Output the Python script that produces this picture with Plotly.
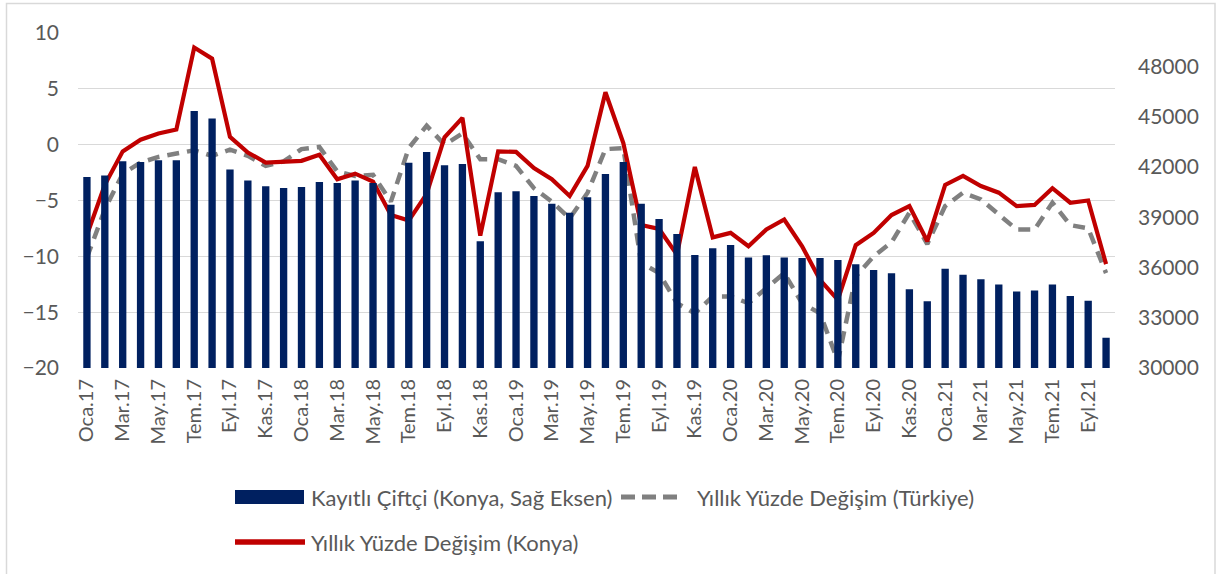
import plotly.graph_objects as go

aylar = ['Oca', 'Şub', 'Mar', 'Nis', 'May', 'Haz', 'Tem', 'Ağu', 'Eyl', 'Eki', 'Kas', 'Ara']
donemler = [f'{a}.{y}' for y in ['17', '18', '19', '20', '21'] for a in aylar][:58]

# Kayıtlı çiftçi sayısı (Konya, sağ eksen)
kayitli_ciftci = [41400, 41500, 42350, 42300, 42400, 42400, 45350, 44900, 41850, 41200,
                  40850, 40750, 40800, 41100, 41050, 41200, 41050, 39750, 42250, 42900,
                  42100, 42180, 37560, 40500, 40550, 40270, 39800, 39270, 40200, 41580,
                  42300, 39800, 38900, 38000, 36750, 37150, 37350, 36600, 36730, 36600,
                  36570, 36570, 36450, 36200, 35850, 35650, 34700, 33980, 35930, 35570,
                  35300, 34980, 34560, 34620, 34980, 34300, 34020, 31800]

# Yıllık yüzde değişim (Türkiye)
yuzde_turkiye = [-10.1, -5.8, -2.6, -1.6, -1.1, -0.8, -0.5, -1.0, -0.45, -1.0,
                 -1.9, -1.5, -0.4, -0.2, -2.4, -2.8, -2.7, -5.1, -0.3, 1.7,
                 0.0, 1.0, -1.3, -1.3, -1.9, -3.9, -5.1, -6.6, -4.3, -0.4,
                 -0.3, -10.6, -11.5, -14.2, -15.1, -13.6, -13.6, -14.2, -12.8, -11.5,
                 -14.2, -15.1, -19.4, -11.8, -10.0, -8.75, -6.1, -8.9, -5.5, -4.3,
                 -4.9, -6.3, -7.6, -7.6, -5.2, -7.2, -7.5, -11.5]

# Yıllık yüzde değişim (Konya)
yuzde_konya = [-8.1, -3.6, -0.6, 0.45, 1.0, 1.35, 8.7, 7.7, 0.7, -0.7,
               -1.6, -1.55, -1.45, -0.9, -3.1, -2.6, -3.3, -6.3, -6.8, -4.4,
               0.65, 2.4, -8.15, -0.6, -0.65, -2.1, -3.1, -4.6, -1.9, 4.7,
               0.15, -7.2, -7.55, -9.85, -2.0, -8.3, -7.9, -9.1, -7.6, -6.7,
               -9.1, -12.1, -13.9, -9.0, -7.9, -6.3, -5.5, -8.65, -3.6, -2.8,
               -3.7, -4.3, -5.5, -5.4, -3.9, -5.2, -5.0, -10.7]

seri_adlari = ['Kayıtlı Çiftçi (Konya, Sağ Eksen)', 'Yıllık Yüzde Değişim (Türkiye)', 'Yıllık Yüzde Değişim (Konya)']

YAZI = 'Lato, Calibri, sans-serif'
GRI_YAZI = '#595959'
LACIVERT, GRI, KIRMIZI = '#002060', '#808080', '#C00000'

# çizim alanı (piksel)
L, T, W, H = 78, 33, 1037, 335


def px(x):
    return (x - L) / W


def py(y):
    return (T + H - y) / H


fig = go.Figure()
fig.add_trace(go.Bar(x=donemler, y=kayitli_ciftci, yaxis='y2', name=seri_adlari[0],
                     marker=dict(color=LACIVERT, line=dict(width=0)), width=0.41))
fig.add_trace(go.Scatter(x=donemler, y=yuzde_turkiye, mode='lines', name=seri_adlari[1],
                         line=dict(color=GRI, width=4.5, dash='12px,8px')))
fig.add_trace(go.Scatter(x=donemler, y=yuzde_konya, mode='lines', name=seri_adlari[2],
                         line=dict(color=KIRMIZI, width=4.2)))

# lejant (Excel tarzı geniş semboller)
shapes = [
    dict(type='rect', xref='paper', yref='paper', x0=px(6.5), x1=px(1215), y0=py(590), y1=py(3.5),
         line=dict(color='#D9D9D9', width=1.5), fillcolor='rgba(0,0,0,0)', layer='below'),
    dict(type='rect', xref='paper', yref='paper', x0=px(235), x1=px(304), y0=py(504), y1=py(490),
         fillcolor=LACIVERT, line=dict(width=0)),
    dict(type='line', xref='paper', yref='paper', x0=px(621), x1=px(684), y0=py(497), y1=py(497),
         line=dict(color=GRI, width=5, dash='14px,7px')),
    dict(type='line', xref='paper', yref='paper', x0=px(235), x1=px(305), y0=py(542), y1=py(542),
         line=dict(color=KIRMIZI, width=5.5)),
]
annotations = [
    dict(xref='paper', yref='paper', x=px(x), y=py(y), text=t, showarrow=False, xanchor='left',
         yanchor='middle', font=dict(size=22, color=GRI_YAZI, family=YAZI))
    for t, x, y in [(seri_adlari[0], 309, 497), (seri_adlari[1], 695, 497), (seri_adlari[2], 309, 542)]
]

fig.update_layout(
    width=1217, height=574,
    paper_bgcolor='white', plot_bgcolor='white',
    margin=dict(l=L, r=1217 - L - W, t=T, b=574 - T - H),
    font=dict(family=YAZI, size=20, color=GRI_YAZI),
    showlegend=False,
    bargap=0.59,
    xaxis=dict(type='category', tickmode='linear', tick0=0, dtick=2, tickangle=-90,
               showgrid=False, showline=False, ticks='', zeroline=False, ticklabelstandoff=6,
               tickfont=dict(size=20, color=GRI_YAZI), range=[-0.5, len(donemler) - 0.5]),
    # 0 çizgisindeki kategori ekseni (tik işaretleri)
    xaxis2=dict(overlaying='x', anchor='free', position=20 / 30, type='linear',
                range=[-0.5, len(donemler) - 0.5], tickmode='linear', tick0=-0.5, dtick=2,
                ticks='outside', ticklen=7, tickcolor='#D9D9D9', tickwidth=1.3,
                showticklabels=False, showgrid=False, zeroline=False,
                showline=True, linecolor='#D9D9D9', linewidth=1.3),
    yaxis=dict(range=[-20, 10], dtick=5, tick0=0, showgrid=True, gridcolor='#D9D9D9', gridwidth=1.3,
               zeroline=False, showline=False, ticks='', ticklabelstandoff=18,
               tickfont=dict(size=21, color=GRI_YAZI)),
    yaxis2=dict(overlaying='y', side='right', range=[30000, 50000], tick0=30000, dtick=3000,
                tickformat='d', showgrid=False, zeroline=False, showline=False, ticks='',
                ticklabelstandoff=22, tickfont=dict(size=21, color=GRI_YAZI)),
    shapes=shapes,
    annotations=annotations,
)

fig.write_html('out.html', config={'displayModeBar': False},
               post_script="document.body.style.margin = '0px';")
